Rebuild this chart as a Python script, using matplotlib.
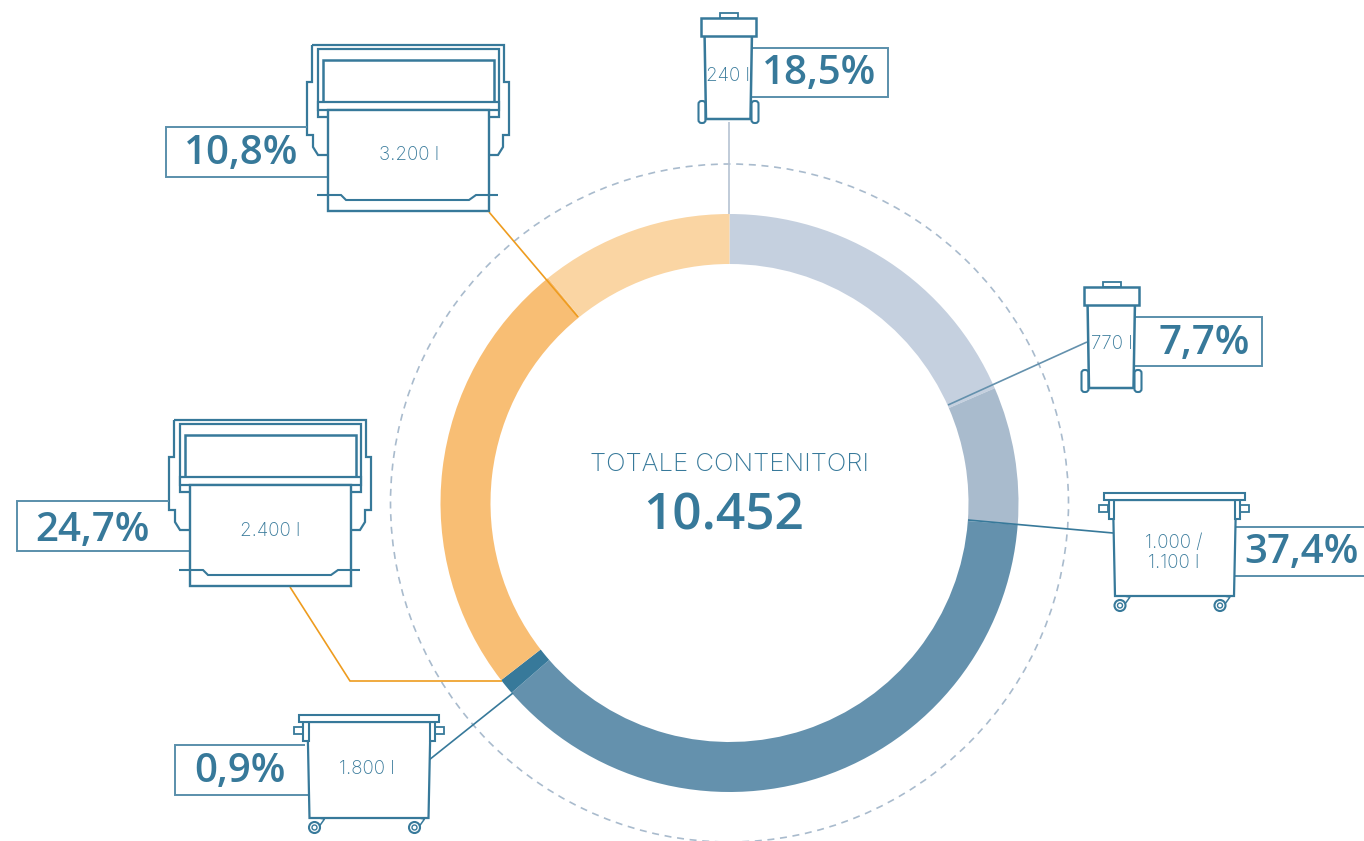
import matplotlib
matplotlib.use("Agg")
import matplotlib.pyplot as plt
from matplotlib.patches import Circle, FancyBboxPatch, Rectangle

W, H = 1364, 841

# dati: contenitori per volume, in senso orario dalle ore 12
volumes = ["240 l", "770 l", "1.000 /\n1.100 l", "1.800 l", "2.400 l", "3.200 l"]
shares = [18.5, 7.7, 37.4, 0.9, 24.7, 10.8]
share_labels = ["18,5%", "7,7%", "37,4%", "0,9%", "24,7%", "10,8%"]
ring_colors = ["#c5d0df", "#a9bbcd", "#6491ad", "#37799a", "#f8be74", "#fad5a3"]
total_title = "TOTALE CONTENITORI"
total_value = "10.452"

BLUE = "#37799a"
TEXT = "#37799a"
ORANGE = "#ee9c1f"

plt.rcParams["font.family"] = ["Open Sans", "DejaVu Sans"]
THIN = ["Inter", "Open Sans", "DejaVu Sans"]

fig = plt.figure(figsize=(W / 100, H / 100), dpi=100)
ax = fig.add_axes([0, 0, 1, 1])


# coordinate in pixel dell'immagine, origine in alto
def Y(py):
    return H - py


def line(xs, ys, color=BLUE, lw=1.5, **kw):
    ax.plot(xs, [Y(v) for v in ys], color=color, lw=lw, solid_capstyle="butt",
            solid_joinstyle="miter", **kw)


def rect(x0, y0, x1, y1, lw=1.5):
    ax.add_patch(Rectangle((x0, Y(y1)), x1 - x0, y1 - y0, fill=True, fc="white",
                           ec=BLUE, lw=lw, zorder=3))


def small_bin(cx, top):
    # bidone carrellato con coperchio (240 l / 770 l)
    for sx in (-1, 1):
        x0, x1 = sorted((cx + sx * 23, cx + sx * 30))
        ax.add_patch(FancyBboxPatch((x0 + 2, Y(top + 110) + 2), x1 - x0 - 4, 18,
                                    boxstyle="round,pad=2,rounding_size=3", fc="white",
                                    ec=BLUE, lw=1.5, zorder=3))
    ax.fill([cx - 24, cx + 23.5, cx + 22, cx - 22.5],
            [Y(top + 18), Y(top + 18), Y(top + 106), Y(top + 106)],
            fc="white", ec=BLUE, lw=1.8, zorder=3)
    rect(cx - 9, top, cx + 9, top + 5, lw=1.3)
    rect(cx - 27.5, top + 5, cx + 27, top + 23, lw=1.8)


def big_bin(cx, top):
    # cassonetto a quattro ruote (1.000 / 1.800 l)
    bottom = top + 103
    for sx in (-1, 1):
        x0, x1 = sorted((cx + sx * 66, cx + sx * 75))
        rect(x0, top + 11.5, x1, top + 19, lw=1.3)
        wx = cx + sx * 50 - 4
        line([wx + 4, wx + 10, wx + 5], [bottom, bottom + 1, bottom + 8], lw=1.1)
        ax.add_patch(Circle((wx, Y(bottom + 9.5)), 5.5, fc="white", ec=BLUE, lw=1.5, zorder=3))
        ax.add_patch(Circle((wx, Y(bottom + 9.5)), 2.5, fc="white", ec=BLUE, lw=1, zorder=3))
    ax.fill([cx - 61, cx + 62, cx + 60, cx - 59],
            [Y(top + 7), Y(top + 7), Y(bottom), Y(bottom)],
            fc="white", ec=BLUE, lw=1.6, zorder=3)
    rect(cx - 65.5, top + 7, cx - 60, top + 26, lw=1.5)
    rect(cx + 61, top + 7, cx + 66, top + 26, lw=1.5)
    rect(cx - 70, top, cx + 70.5, top + 7, lw=1.5)


def skip_bin(cx, top):
    # contenitore grande con telaio (2.400 / 3.200 l)
    left = [(-96, 0), (-96, 37), (-101, 37), (-101, 90), (-95, 90), (-95, 102),
            (-90, 110), (-80, 110)]
    xs = [cx + p[0] for p in left] + [cx - p[0] for p in left[::-1]]
    ys = [top + p[1] for p in left] + [top + p[1] for p in left[::-1]]
    xs.append(xs[0])
    ys.append(ys[0])
    line(xs, ys, lw=1.6, zorder=2)
    rect(cx - 90.5, top + 4, cx + 91, top + 72, lw=1.6)
    rect(cx - 85, top + 15, cx + 86, top + 57, lw=1.8)
    rect(cx - 90.5, top + 57, cx + 91, top + 65, lw=1.6)
    rect(cx - 80, top + 65, cx + 81, top + 166, lw=1.7)
    line([cx - 91, cx - 67, cx - 62, cx + 61, cx + 68, cx + 90],
         [top + 150, top + 150, top + 155, top + 155, top + 150, top + 150],
         lw=1.5, zorder=4)


def label_box(x0, x1, y0, y1, x_top=None, x_bot=None, x_side=None):
    # riquadro con la percentuale, aperto verso l'icona
    if x_side == "right":
        line([x_top, x1, x1, x_bot], [y0, y0, y1, y1], color="#5a8fab", lw=1.4)
    else:
        line([x_top, x0, x0, x_bot], [y0, y0, y1, y1], color="#5a8fab", lw=1.4)


# anello
ax.pie(shares, colors=ring_colors, startangle=90, counterclock=False,
       center=(729.5, Y(503)), radius=289,
       wedgeprops=dict(width=50, linewidth=0), frame=True)
ax.add_patch(Circle((729.5, Y(503)), 339, fill=False, ec="#a9bbcd", lw=1.2,
                    ls=(0, (4.2, 3.4)), zorder=1))

ax.set_xlim(0, W)
ax.set_ylim(0, H)
ax.set_aspect("auto")
ax.axis("off")

# linee di richiamo
line([729, 729], [122, 214], color="#b5c2d2", lw=1.2, zorder=2)
line([1087, 948], [342, 405], color="#6491ad", lw=1.2, zorder=2)
line([1113, 968], [533, 520], color=BLUE, lw=1.2, zorder=2)
line([429, 513], [760, 693], color=BLUE, lw=1.2, zorder=2)
line([290, 350, 502], [587, 681, 681], color=ORANGE, lw=1.2, zorder=2)
line([489, 578], [212, 317], color=ORANGE, lw=1.2, zorder=2)

# icone
small_bin(728.5, 13)
small_bin(1111.5, 282)
big_bin(1174, 493)
big_bin(368.5, 715)
skip_bin(408, 45)
skip_bin(270, 420)

# riquadri
label_box(752, 888, 47.5, 97, x_top=752, x_bot=752, x_side="right")
label_box(1135, 1262, 317, 366, x_top=1135, x_bot=1135, x_side="right")
label_box(1234, 1400, 527, 576, x_top=1234, x_bot=1234, x_side="right")
label_box(175, 308, 745, 795, x_top=305, x_bot=309)
label_box(17, 189, 501, 551, x_top=169, x_bot=189)
label_box(166, 328, 127, 177, x_top=307, x_bot=328)

# testi
vol_pos = [(728, 76), (1112, 344), (1174, 553), (367, 769), (270, 531), (409, 155)]
share_pos = [(819, 74), (1204, 344), (1302, 553), (240, 772), (92, 531), (241, 154)]
for name, (vx, vy) in zip(volumes, vol_pos):
    ax.text(vx, Y(vy), name, ha="center", va="center", fontsize=13.5, color=TEXT,
            family=THIN, fontweight="light", linespacing=1.15, zorder=5)
for lab, (sx, sy) in zip(share_labels, share_pos):
    ax.text(sx, Y(sy), lab, ha="center", va="center", fontsize=29, color=BLUE,
            fontweight="semibold", zorder=5)

ax.text(729, Y(464), total_title, ha="center", va="center", fontsize=18.5, color=TEXT,
        family=THIN, fontweight="light")
ax.text(724, Y(517), total_value, ha="center", va="center", fontsize=37, color=BLUE,
        fontweight="semibold")

fig.savefig("out.png", dpi=100)
